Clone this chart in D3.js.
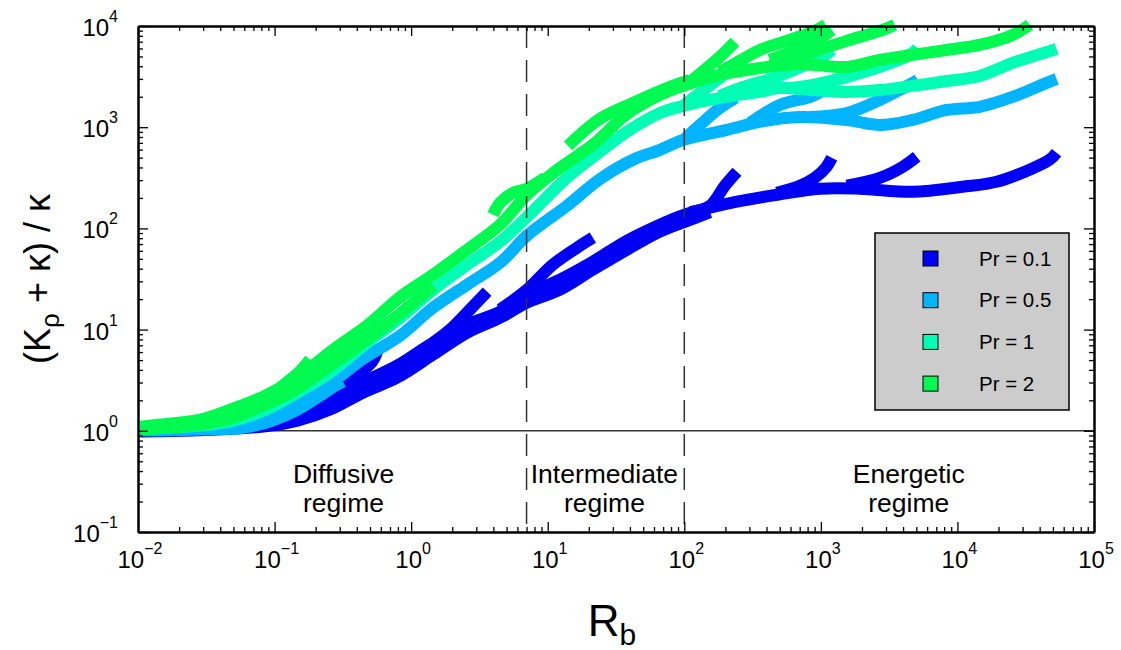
<!DOCTYPE html>
<html>
<head>
<meta charset="utf-8">
<script src="https://cdn.jsdelivr.net/npm/d3@7"></script>
<style>
  body { margin: 0; background: #fff; }
  text { font-family: "Liberation Sans", Arial, sans-serif; fill: #000; }
</style>
</head>
<body>
<svg width="1121" height="650"></svg>
<script>
// legend entries and colours
var prLabels = ["Pr = 0.1", "Pr = 0.5", "Pr = 1", "Pr = 2"]
var prColors = ["#0000f5", "#00b4ff", "#00ffb4", "#00fa50"]

// axis decades (powers of ten)
var xTickExps = [-2, -1, 0, 1, 2, 3, 4, 5]
var yTickExps = [-1, 0, 1, 2, 3, 4]

// regime boundaries (Rb) and label anchors
var regimeBounds = [7, 100]
var regimeLabels = [["Diffusive", "regime"], ["Intermediate", "regime"], ["Energetic", "regime"]]
var regimeLabelRb = [0.32, 26, 4400]

// curves, each point is [Rb, (K_rho + kappa)/kappa]
// Pr = 0.1
var pr01Main = [[0.0104,1.01],[0.0272,1.03],[0.0474,1.10],[0.0826,1.24],[0.147,1.48],[0.255,1.90],[0.446,3.00],[0.791,4.41],[1.45,7.44],[2.57,11.2],[4.48,15.1],[7.06,22.2],[12.3,31.2],[21.4,46.9],[38.0,75.6],[66.3,109],[99.3,136],[154,160],[243,184],[476,215],[982,247],[1926,247],[4700,230],[10900,258],[19350,289],[33750,380],[47300,477],[53200,559]]
var pr01Lower = [[0.0104,0.984],[0.0272,1.01],[0.0826,1.10],[0.147,1.26],[0.255,1.62],[0.446,2.39],[0.791,3.36],[1.45,5.67],[2.57,9.33],[4.48,13.1],[7.06,18.5],[12.3,24.8],[21.4,39.1],[38.0,61.6],[66.3,92.8],[99.3,115],[154,145]]
var pr01Upper = [[0.0474,1.18],[0.0826,1.42],[0.147,1.78],[0.255,2.28],[0.389,3.43],[0.519,4.83],[0.564,6.07]]
var pr01Hook1 = [[1.45,7.44],[1.93,10.0],[2.70,15.8],[3.60,23.7]]
var pr01Hook2 = [[4.48,15.8],[7.06,24.8],[10.9,43.8],[16.4,64.5],[21.4,80.9]]
var pr01Hook3 = [[110,145],[154,167],[198,264],[243,363]]
var pr01Hook4 = [[476,225],[701,264],[902,316],[1086,397],[1202,499]]
var pr01Hook5 = [[1547,264],[2700,316],[3975,406],[5033,510]]

// Pr = 0.5
var pr05Main = [[0.0104,1.01],[0.0173,1.01],[0.0286,1.03],[0.0474,1.05],[0.0826,1.26],[0.147,1.90],[0.255,2.93],[0.446,5.17],[0.831,8.72],[1.45,16.5],[2.57,27.8],[4.48,45.8],[7.06,84.9],[13.8,167],[24.1,307],[42.1,477],[66.3,598],[99.3,751],[205,942],[357,1130],[701,1260],[1547,1180],[2700,1050],[4700,1180],[8340,1480],[14530,1590],[25330,1990],[44960,2740],[53200,3000]]
var pr05Lower = [[0.0474,1.03],[0.0826,1.18],[0.147,1.62],[0.216,2.23],[0.278,2.80],[0.318,3.07]]
var pr05Hook1 = [[99.3,751],[130,1050],[182,1550],[238,1950]]
var pr05Hook2 = [[302,1100],[500,1660],[873,2040],[1086,2440],[1202,2740]]
var pr05Hook3 = [[829,1260],[1547,1380],[2700,1860],[4700,2740],[5120,2930]]

// Pr = 1
var pr1Main = [[0.0104,1.03],[0.0173,1.08],[0.0286,1.13],[0.0474,1.24],[0.0826,1.58],[0.147,2.39],[0.255,3.76],[0.477,7.44],[0.831,13.1],[1.45,24.8],[2.57,43.8],[4.48,73.9],[7.06,130],[13.8,316],[24.1,571],[38.0,902],[66.3,1380],[97.7,1620],[182,1950],[357,2230],[500,2440],[873,2330],[1547,2230],[2700,2330],[4700,2560],[8340,2860],[14530,3210],[25330,4320],[44960,5540],[53200,5940]]
var pr1Hook1 = [[97.7,1620],[130,2180],[182,3070],[227,3940]]
var pr1Hook2 = [[182,2040],[269,2500],[476,3140],[829,4320],[1086,5180],[1202,5800]]
var pr1Hook3 = [[593,2440],[873,2620],[1547,3140],[2700,3940],[4700,5420],[5120,6080]]

// Pr = 2
var pr2Main = [[0.0104,1.10],[0.0173,1.18],[0.0286,1.29],[0.0474,1.62],[0.0826,2.18],[0.147,3.36],[0.269,6.35],[0.477,11.0],[0.831,21.0],[1.45,34.9],[2.57,61.6],[4.48,109],[7.06,215],[12.3,397],[21.4,670],[38.0,1350],[66.3,2090],[97.7,2560],[182,3290],[357,3850],[701,4220],[1547,3940],[2700,4630],[4700,5180],[8340,5800],[14530,6510],[25330,8170],[33750,10250]]
var pr2Lower = [[0.0104,1.03],[0.0286,1.15],[0.0474,1.32],[0.0826,1.78],[0.147,2.62],[0.269,4.62],[0.477,7.96],[0.831,14.4],[1.45,27.2]]
var pr2Spike = [[0.110,2.68],[0.154,3.9],[0.182,5.06]]
var pr2Bump = [[3.98,137],[4.48,179],[5.58,225],[7.06,247],[9.56,316]]
var pr2Upper = [[14.1,655],[24.1,1210],[42.1,1740],[74.6,2440],[110,2930]]
var pr2Hook1 = [[110,2800],[141,3690],[182,4950],[235,6970]]
var pr2Hook2 = [[182,3520],[277,4840],[357,5800],[622,7460],[902,8950],[1086,10250]]
var pr2Hook2b = [[423,4630],[701,6080],[982,7600],[1202,9160]]
var pr2Hook3 = [[423,4030],[701,4840],[873,5540],[1547,7130],[2700,8950],[3474,10250]]

var groups = [
  [pr01Main, pr01Lower, pr01Upper, pr01Hook1, pr01Hook2, pr01Hook3, pr01Hook4, pr01Hook5],
  [pr05Main, pr05Lower, pr05Hook1, pr05Hook2, pr05Hook3],
  [pr1Main, pr1Hook1, pr1Hook2, pr1Hook3],
  [pr2Main, pr2Lower, pr2Spike, pr2Bump, pr2Upper, pr2Hook1, pr2Hook2, pr2Hook2b, pr2Hook3]
]

var plotLeft = 138, plotRight = 1094, plotTop = 26, plotBottom = 532

var x = d3.scaleLog().domain([1e-2, 1e5]).range([plotLeft, plotRight])
var y = d3.scaleLog().domain([1e-1, 1e4]).range([plotBottom, plotTop])

var svg = d3.select("svg")

function isMajor(v) {
  var l = Math.log10(v)
  return Math.abs(l - Math.round(l)) < 1e-6
}
var majorX = xTickExps.map(function(e) { return Math.pow(10, e) })
var majorY = yTickExps.map(function(e) { return Math.pow(10, e) })
var minorX = x.ticks().filter(function(v) { return !isMajor(v) })
var minorY = y.ticks().filter(function(v) { return !isMajor(v) })

// reference line at 1
svg.append("line")
  .attr("x1", plotLeft).attr("x2", plotRight)
  .attr("y1", y(1)).attr("y2", y(1))
  .attr("stroke", "#333").attr("stroke-width", 1.5)

// curves
var line = d3.line()
  .x(function(d) { return x(d[0]) })
  .y(function(d) { return y(d[1]) })
  .curve(d3.curveCatmullRom.alpha(0.5))

groups.forEach(function(curves, i) {
  svg.append("g")
    .selectAll("path")
    .data(curves)
    .enter()
    .append("path")
      .attr("d", line)
      .attr("fill", "none")
      .attr("stroke", prColors[i])
      .attr("stroke-width", 12)
      .attr("stroke-linejoin", "round")
      .attr("stroke-linecap", "butt")
})

// regime boundaries
svg.selectAll(".regimeLine")
  .data(regimeBounds)
  .enter()
  .append("line")
    .attr("x1", function(d) { return x(d) }).attr("x2", function(d) { return x(d) })
    .attr("y1", plotTop).attr("y2", plotBottom)
    .attr("stroke", "#333").attr("stroke-width", 1.5)
    .attr("stroke-dasharray", "22,12")

// regime labels
regimeLabels.forEach(function(lines, i) {
  lines.forEach(function(t, j) {
    svg.append("text")
      .attr("x", x(regimeLabelRb[i]))
      .attr("y", 483 + j * 29)
      .attr("text-anchor", "middle")
      .attr("font-size", 26.5)
      .text(t)
  })
})

// axes with inward ticks on all four sides
function styleAxis(g) {
  g.selectAll("path").attr("stroke", "#000").attr("stroke-width", 2)
  g.selectAll("line").attr("stroke", "#000").attr("stroke-width", 1.3)
}
var axes = [
  [d3.axisBottom, x, "translate(0," + plotBottom + ")", majorX, minorX],
  [d3.axisTop, x, "translate(0," + plotTop + ")", majorX, minorX],
  [d3.axisLeft, y, "translate(" + plotLeft + ",0)", majorY, minorY],
  [d3.axisRight, y, "translate(" + plotRight + ",0)", majorY, minorY]
]
axes.forEach(function(a) {
  svg.append("g").attr("transform", a[2])
    .call(a[0](a[1]).tickValues(a[4]).tickSize(-5).tickSizeOuter(0).tickFormat(""))
    .call(styleAxis)
  svg.append("g").attr("transform", a[2])
    .call(a[0](a[1]).tickValues(a[3]).tickSize(-10).tickSizeOuter(0).tickFormat(""))
    .call(styleAxis)
})

function expLabel(e) { return e < 0 ? "\u2212" + Math.abs(e) : String(e) }

// x tick labels
xTickExps.forEach(function(e) {
  var t = svg.append("text")
    .attr("x", x(Math.pow(10, e)) + 2)
    .attr("y", 568)
    .attr("text-anchor", "middle")
    .attr("font-size", 24)
  t.append("tspan").text("10")
  t.append("tspan").attr("dy", -14).attr("font-size", 16).text(expLabel(e))
})

// y tick labels
yTickExps.forEach(function(e) {
  var t = svg.append("text")
    .attr("x", 118)
    .attr("y", y(Math.pow(10, e)) + 10)
    .attr("text-anchor", "end")
    .attr("font-size", 24)
  t.append("tspan").text("10")
  t.append("tspan").attr("dy", -14).attr("font-size", 16).text(expLabel(e))
})

// axis titles
var yl = svg.append("text")
  .attr("transform", "translate(50," + ((plotTop + plotBottom) / 2) + ") rotate(-90)")
  .attr("text-anchor", "middle")
  .attr("font-size", 36)
yl.append("tspan").text("(K")
yl.append("tspan").attr("dy", 9).attr("font-size", 26).text("\u03c1")
yl.append("tspan").attr("dy", -9).text(" + \u03ba) / \u03ba")

var xl = svg.append("text")
  .attr("x", (plotLeft + plotRight) / 2 - 4)
  .attr("y", 636)
  .attr("text-anchor", "middle")
  .attr("font-size", 44)
xl.append("tspan").text("R")
xl.append("tspan").attr("dy", 9).attr("font-size", 30).text("b")

// legend
var legend = svg.append("g").attr("transform", "translate(875,233)")
legend.append("rect")
  .attr("width", 194).attr("height", 177)
  .attr("fill", "#cccccc").attr("stroke", "#000").attr("stroke-width", 1.5)
var item = legend.selectAll(".item")
  .data(prLabels)
  .enter()
  .append("g")
    .attr("transform", function(d, i) { return "translate(0," + (25.5 + i * 41.7) + ")" })
item.append("rect")
  .attr("x", 48).attr("y", -7.5).attr("width", 15).attr("height", 15)
  .attr("fill", function(d, i) { return prColors[i] })
  .attr("stroke", "#000").attr("stroke-width", 1)
item.append("text")
  .attr("x", 104).attr("y", 7)
  .attr("font-size", 20.5)
  .text(function(d) { return d })
</script>
</body>
</html>
